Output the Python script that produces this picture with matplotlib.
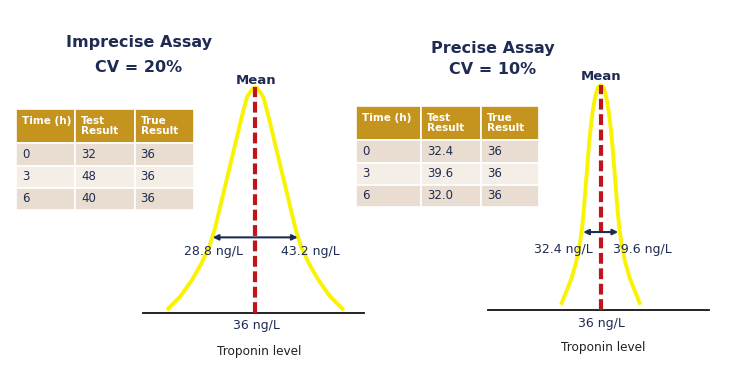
import numpy as np
import matplotlib.pyplot as plt

W, H = 730, 389

# values
true_level = 36
cv_imprecise = 0.20
cv_precise = 0.10

table_cols = ['Time (h)\n ', 'Test\nResult', 'True\nResult']
times = ['0', '3', '6']
imprecise_test = ['32', '48', '40']
precise_test = ['32.4', '39.6', '32.0']
true_result = ['36', '36', '36']

# bell outline: offset from the mean (ng/L) and relative height
imprecise_offset = [0, 0.34, 0.68, 1.40, 2.15, 2.83, 3.50, 4.18, 4.86, 5.54, 6.21,
                    6.89, 7.80, 9.10, 10.73, 12.71, 14.97]
imprecise_height = [1, 0.996, 0.985, 0.956, 0.882, 0.809, 0.735, 0.662, 0.588, 0.515,
                    0.441, 0.368, 0.294, 0.221, 0.147, 0.074, 0.015]
precise_offset = [0, 0.3, 0.62, 1.17, 1.65, 2.06, 2.40, 2.67, 2.95, 3.22, 3.50,
                  3.84, 4.32, 5.01, 5.97, 7.34, 8.16]
precise_height = [1, 0.996, 0.988, 0.944, 0.884, 0.810, 0.736, 0.661, 0.587, 0.513,
                  0.438, 0.364, 0.290, 0.215, 0.141, 0.067, 0.022]

NAVY = '#1f2b52'
GOLD = '#c4941f'
ROWS = ['#e8ddd0', '#f4eee6']
YELLOW = '#f9f200'
RED = '#c0141c'

fig = plt.figure(figsize=(W / 100, H / 100), dpi=100)
fig.patch.set_facecolor('white')


def fx(x):
    return x / W


def fy(y):
    return 1 - y / H


def px_axes(x0, x1, y_top, y_bot):
    return fig.add_axes([fx(x0), fy(y_bot), (x1 - x0) / W, (y_bot - y_top) / H])


def curve_panel(x0, x1, y_top, y_bot, cx, y_peak, scale, offsets, heights, cv, arrow_h):
    ax = px_axes(x0, x1, y_top, y_bot)
    ax.set_xlim(true_level - (cx - x0) / scale, true_level + (x1 - cx) / scale)
    ax.set_ylim(0, (y_bot - y_top) / (y_bot - y_peak))
    off = np.array(offsets)
    hh = np.array(heights)
    xs = np.concatenate([true_level - off[::-1], true_level + off[1:]])
    ys = np.concatenate([hh[::-1], hh[1:]])
    ax.plot(xs, ys, color=YELLOW, lw=2.8, solid_joinstyle='round', solid_capstyle='butt',
            clip_on=False, zorder=2)
    ax.plot([true_level, true_level], [0, 1], color=RED, lw=3,
            linestyle=(0, (2.6, 1.1)), dash_capstyle='butt', zorder=3)
    sd = true_level * cv
    ax.annotate('', xy=(true_level - sd, arrow_h), xytext=(true_level + sd, arrow_h),
                arrowprops=dict(arrowstyle='<|-|>', color=NAVY, lw=1.5,
                                mutation_scale=8, shrinkA=0, shrinkB=0), zorder=4)
    for s in ['top', 'left', 'right']:
        ax.spines[s].set_visible(False)
    ax.spines['bottom'].set_linewidth(1.3)
    ax.spines['bottom'].set_color('#111111')
    ax.set_xticks([])
    ax.set_yticks([])
    ax.patch.set_alpha(0)
    return ax, sd


def table_panel(x0, x1, y_top, y_bot, test_vals, col_w):
    ax = px_axes(x0, x1, y_top, y_bot)
    ax.axis('off')
    rows = [[t, v, r] for t, v, r in zip(times, test_vals, true_result)]
    tb = ax.table(cellText=rows, colLabels=table_cols, colWidths=col_w,
                  cellLoc='left', colLoc='left', bbox=[0, 0, 1, 1])
    tb.auto_set_font_size(False)
    for (r, c), cell in tb.get_celld().items():
        cell.set_edgecolor('white')
        cell.set_linewidth(1.2)
        cell.PAD = 0.1
        txt = cell.get_text()
        if r == 0:
            cell.set_facecolor(GOLD)
            cell.set_height(0.34)
            txt.set_color('white')
            txt.set_fontweight('bold')
            txt.set_fontsize(7.5)
            txt.set_linespacing(1.0)
        else:
            cell.set_facecolor(ROWS[(r - 1) % 2])
            cell.set_height(0.22)
            txt.set_color(NAVY)
            txt.set_fontsize(8.5)


def label(x, y, s, size=9, weight='normal', color=NAVY):
    fig.text(fx(x), fy(y), s, ha='center', va='center', fontsize=size,
             fontweight=weight, color=color)


# left: imprecise assay
ax1, sd1 = curve_panel(143, 364, 80, 313.3, 255.2, 87.3, 5.9,
                       imprecise_offset, imprecise_height, cv_imprecise, 0.336)
table_panel(16, 194, 109, 210, imprecise_test, [1, 1, 1])
label(139, 43, 'Imprecise Assay', 11.5, 'bold')
label(139, 67, f'CV = {cv_imprecise:.0%}', 11.5, 'bold')
label(256, 80, 'Mean', 9.5, 'bold')
label(214, 252, f'{true_level - sd1:.1f} ng/L')
label(310, 252, f'{true_level + sd1:.1f} ng/L')
label(256, 326, f'{true_level} ng/L')
label(259, 352, 'Troponin level', 8.7, color='#222222')

# right: precise assay
ax2, sd2 = curve_panel(488, 709, 75, 309.7, 600.7, 85.3, 4.86,
                       precise_offset, precise_height, cv_precise, 0.346)
table_panel(356, 539, 106, 207, precise_test, [65, 60, 58])
label(493, 48, 'Precise Assay', 11.5, 'bold')
label(493, 70, f'CV = {cv_precise:.0%}', 11.5, 'bold')
label(601, 76, 'Mean', 9.5, 'bold')
label(563, 249, f'{true_level - sd2:.1f} ng/L')
label(642, 249, f'{true_level + sd2:.1f} ng/L')
label(601, 323, f'{true_level} ng/L')
label(603, 348, 'Troponin level', 8.7, color='#222222')

fig.savefig('out.png', dpi=100)
